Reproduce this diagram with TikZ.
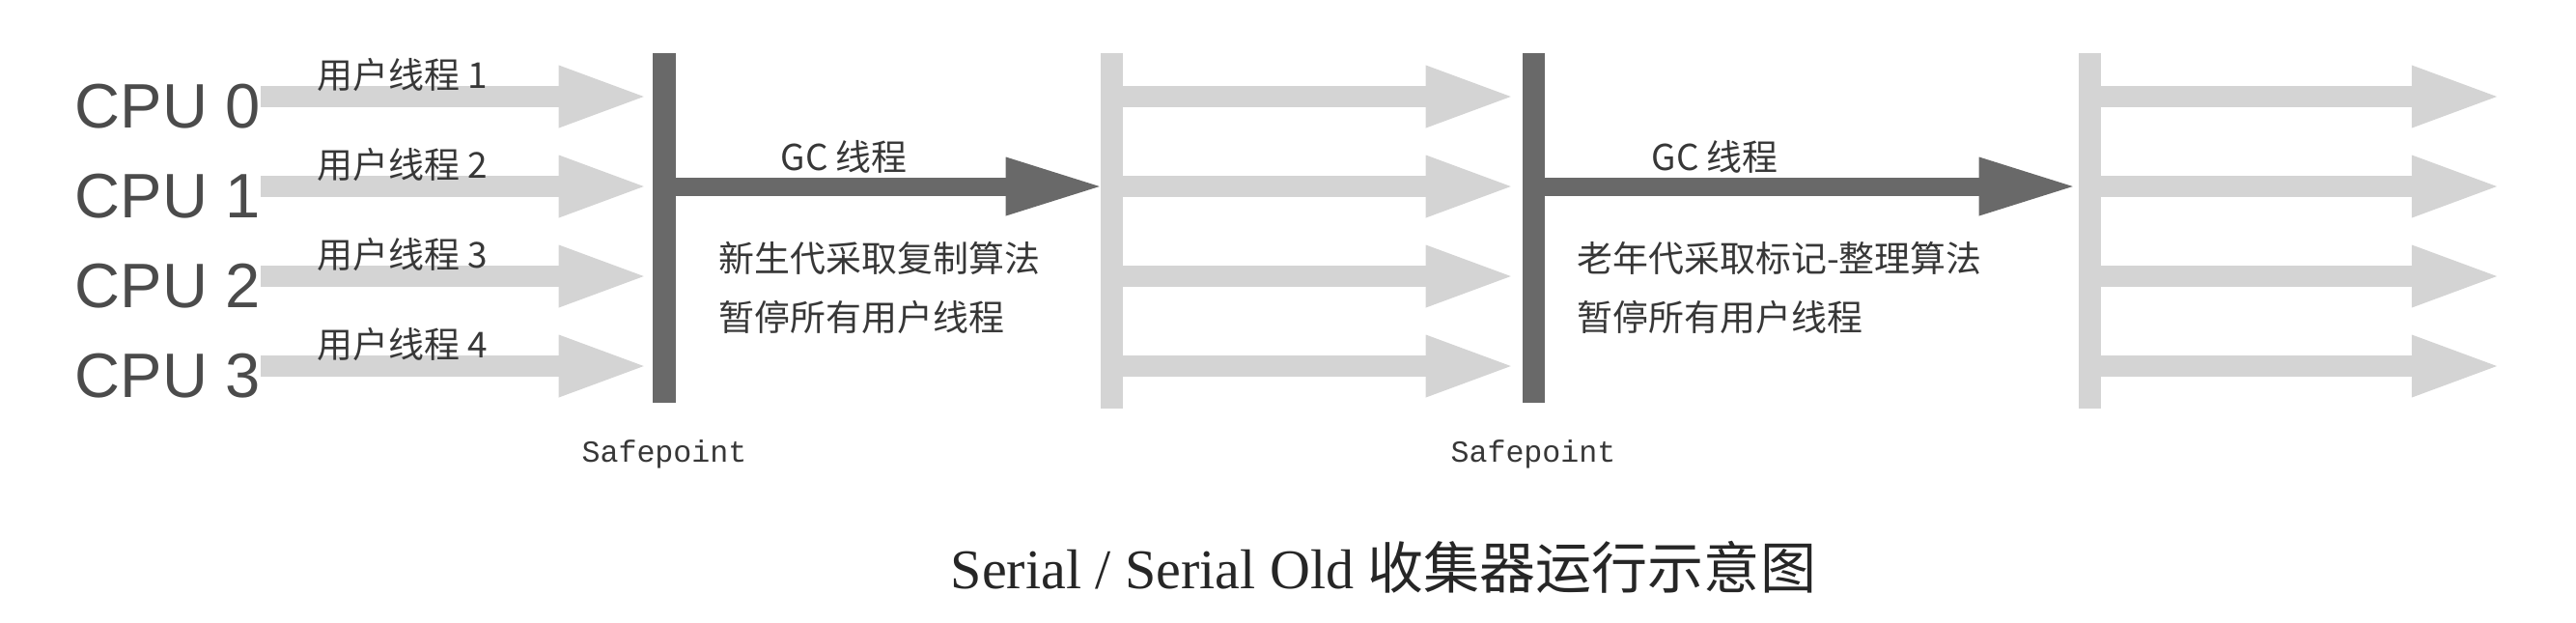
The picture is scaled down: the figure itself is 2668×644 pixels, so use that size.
\documentclass[tikz,border=0pt]{standalone}
\usepackage{fontspec}
\setmainfont{Liberation Serif}
\setmonofont{Liberation Mono}
\newfontfamily\cjk{Noto Sans CJK SC}
\newfontfamily\arial{Liberation Sans}
\usetikzlibrary{arrows.meta,positioning}
\definecolor{runcol}{RGB}{212,212,212}
\definecolor{gccol}{RGB}{105,105,105}
\definecolor{txtcol}{RGB}{55,55,55}
\tikzset{
	cpu/.style={
		font=\arial\fontsize{18.5}{19}\selectfont, text=txtcol!90,
		inner sep=0pt, anchor=west,
	},
	thread/.style={
		font=\cjk\fontsize{10.5}{12}\selectfont, text=txtcol,
		inner sep=0pt, anchor=west,
	},
	safe/.style={
		font=\ttfamily\fontsize{9}{9}\selectfont, text=txtcol, inner sep=0pt,
	},
	sp/.style={
		rectangle, fill=gccol, inner sep=0pt,
		minimum width=0.23cm, minimum height=3.61cm,
	},
	run/.style={
		sp, fill=runcol, minimum height=3.68cm,
	},
	userline/.style={
		draw=runcol, line width=0.22cm,
		-{Triangle[length=0.88cm, width=0.65cm, line width=0pt]},
	},
	gcline/.style={
		draw=gccol, line width=0.19cm,
		-{Triangle[length=0.97cm, width=0.61cm, line width=0pt]},
	}
}

\begin{document}
\begin{tikzpicture}[x=0.01cm, y=-0.01cm]
		\useasboundingbox (0,0) rectangle (2668,644);
		
		\node [sp] (sp1) at (688,236) {};
		\node [run] (run1) at (1151,239) {};
		\node [sp] (sp2) at (1588,236) {};
		\node [run] (run2) at (2164,239) {};
		
		\foreach \i in {0,...,3} {
			\pgfmathtruncatemacro\n{\i+1}
			\coordinate (r\i) at (0,100+93*\i);
			\coordinate (end\i) at (2586,100+93*\i);
			\node [cpu] (cpu\i) at (77,110+93*\i) {CPU \i};
			\path [userline, shorten >=0.09cm] (cpu\i.east |- r\i) -- (sp1.west |- r\i);
			\path [userline, shorten >=0.11cm] (run1.east |- r\i) -- (sp2.west |- r\i);
			\path [userline] (run2.east |- r\i) -- (end\i);
			\node [thread] (th\i) at (328,77+93*\i) {用户线程 \n};
		}
		
		\path [gcline] (sp1.east |- r1) -- (run1.west |- r1);
		\path [gcline, shorten >=0.05cm] (sp2.east |- r1) -- (run2.west |- r1);
		
		\node [thread] (gc1) at (808,162) {GC 线程};
		\node [thread] (young) at (744,267) {新生代采取复制算法};
		\node [thread] (stop1) at (744,328) {暂停所有用户线程};
		\node [thread] (gc2) at (1710,162) {GC 线程};
		\node [thread] (old) at (1633,267) {老年代采取标记-整理算法};
		\node [thread] (stop2) at (1633,328) {暂停所有用户线程};
		
		\node [safe] (spt1) at ([yshift=-0.53cm]sp1.south) {Safepoint};
		\node [safe] (spt2) at ([yshift=-0.53cm]sp2.south) {Safepoint};
		
		\node [font=\fontsize{16.5}{18}\selectfont, text=black!85] (title) at (1433,587) {Serial / Serial Old {\cjk 收集器运行示意图}};
\end{tikzpicture}
\end{document}
